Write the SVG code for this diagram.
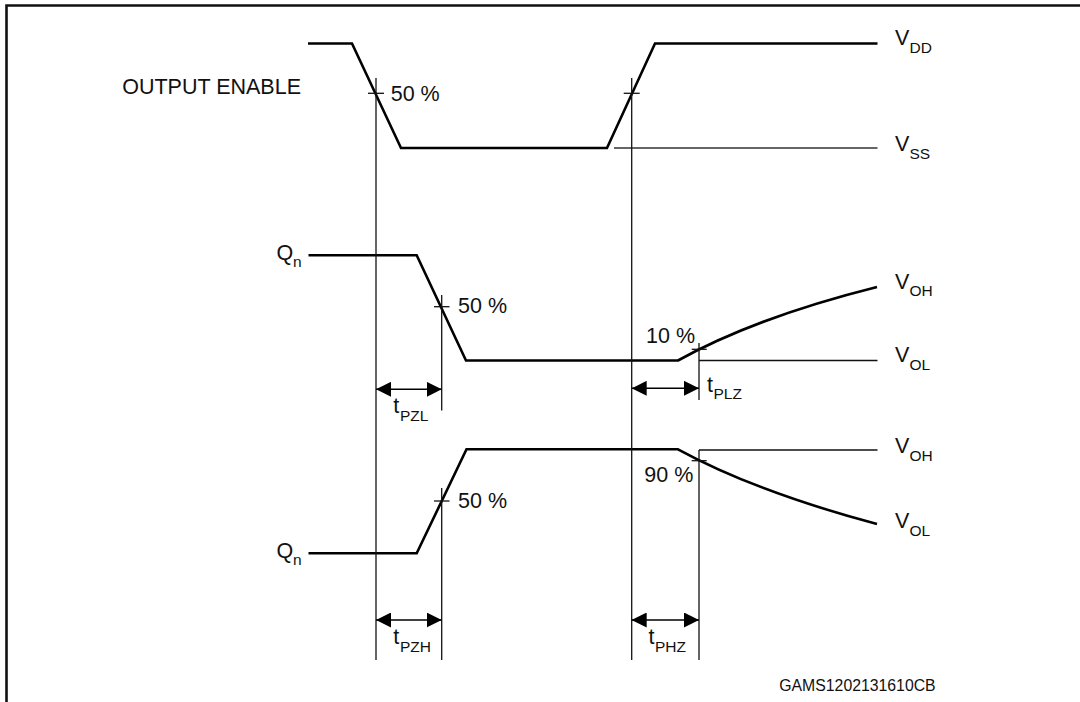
<svg xmlns="http://www.w3.org/2000/svg" width="1080" height="702" viewBox="0 0 1080 702">
<style>
text{font-family:"Liberation Sans",Arial,sans-serif;font-size:21.5px;fill:#111}
.sub{font-size:15.5px}
.wave{fill:none;stroke:#000;stroke-width:2.6;stroke-linejoin:miter}
.thin{fill:none;stroke:#111;stroke-width:1.3}
.ref{fill:none;stroke:#333;stroke-width:1.4}
.dim{fill:none;stroke:#000;stroke-width:1.5;marker-start:url(#ah);marker-end:url(#ah)}
</style>
<defs>
<marker id="ah" viewBox="0 0 15 15" refX="15" refY="7.5" markerWidth="15" markerHeight="15" markerUnits="userSpaceOnUse" orient="auto-start-reverse">
<path d="M0,0 L15,7.5 L0,15 Z" fill="#000"/>
</marker>
</defs>
<rect width="1080" height="702" fill="#fff"/>
<g id="frame">
<path d="M6.5,702 V5.5 H1080" fill="none" stroke="#111" stroke-width="2.6"/>
</g>
<g id="output-enable">
<path class="wave" d="M308,43.5 H352 L401,148 H607 L655,43.5 H877.5"/>
<line class="ref" x1="614" y1="148" x2="877.5" y2="148"/>
<text x="301" y="94" text-anchor="end">OUTPUT ENABLE</text>
<text x="390.7" y="100.7">50 %</text>
<text x="895" y="45">V<tspan class="sub" x="909.5" y="53">DD</tspan></text>
<text x="895" y="151">V<tspan class="sub" x="909.5" y="158.5">SS</tspan></text>
</g>
<g id="qn-upper">
<path class="wave" d="M308.5,255.3 H416.7 L466,360.5 H678 Q755.5,317.4 877,287"/>
<line class="thin" x1="699" y1="360.5" x2="877.5" y2="360.5"/>
<text x="276.5" y="260">Q<tspan class="sub" x="293" y="267">n</tspan></text>
<text x="458" y="313">50 %</text>
<text x="646" y="342.7">10 %</text>
<text x="895" y="288.5">V<tspan class="sub" x="909.5" y="296">OH</tspan></text>
<text x="895" y="362">V<tspan class="sub" x="909.5" y="369.5">OL</tspan></text>
</g>
<g id="qn-lower">
<path class="wave" d="M308.5,553.3 H416.7 L466.5,449.3 H678 Q755.5,491.6 877,524"/>
<line class="thin" x1="699" y1="450" x2="877.5" y2="450"/>
<text x="276.5" y="558">Q<tspan class="sub" x="293" y="565">n</tspan></text>
<text x="458" y="508">50 %</text>
<text x="644.3" y="482.3">90 %</text>
<text x="895" y="453">V<tspan class="sub" x="909.5" y="460.5">OH</tspan></text>
<text x="895" y="528">V<tspan class="sub" x="909.5" y="535.5">OL</tspan></text>
</g>
<g id="timing-labels">
<text x="393.3" y="413">t<tspan class="sub" x="400" y="421">PZL</tspan></text>
<text x="707" y="391.7">t<tspan class="sub" x="713.5" y="399.3">PLZ</tspan></text>
<text x="393.3" y="644">t<tspan class="sub" x="400" y="652">PZH</tspan></text>
<text x="648.5" y="644">t<tspan class="sub" x="655" y="652">PHZ</tspan></text>
</g>
<g id="connectors">
<line class="thin" x1="376" y1="78" x2="376" y2="660"/>
<line class="thin" x1="631.7" y1="78" x2="631.7" y2="660"/>
<line class="thin" x1="441.7" y1="295" x2="441.7" y2="410.5"/>
<line class="thin" x1="441.7" y1="488" x2="441.7" y2="660"/>
<line class="thin" x1="699" y1="343" x2="699" y2="400"/>
<line class="thin" x1="699" y1="450" x2="699" y2="660"/>
<line class="thin" x1="368" y1="93.3" x2="384" y2="93.3"/>
<line class="thin" x1="623.7" y1="93.3" x2="639.7" y2="93.3"/>
<line class="thin" x1="434" y1="306.7" x2="449.5" y2="306.7"/>
<line class="thin" x1="434" y1="501" x2="449.5" y2="501"/>
<line class="thin" x1="691.7" y1="349.3" x2="706.7" y2="349.3"/>
<line class="thin" x1="691.7" y1="460.7" x2="706.7" y2="460.7"/>
<line class="dim" x1="376" y1="389.3" x2="441.7" y2="389.3"/>
<line class="dim" x1="631.7" y1="388.3" x2="699" y2="388.3"/>
<line class="dim" x1="376" y1="620" x2="441.7" y2="620"/>
<line class="dim" x1="631.7" y1="620" x2="699" y2="620"/>
</g>
<g id="footer">
<text x="779.3" y="690.7" style="font-size:15.8px">GAMS1202131610CB</text>
</g>
</svg>
